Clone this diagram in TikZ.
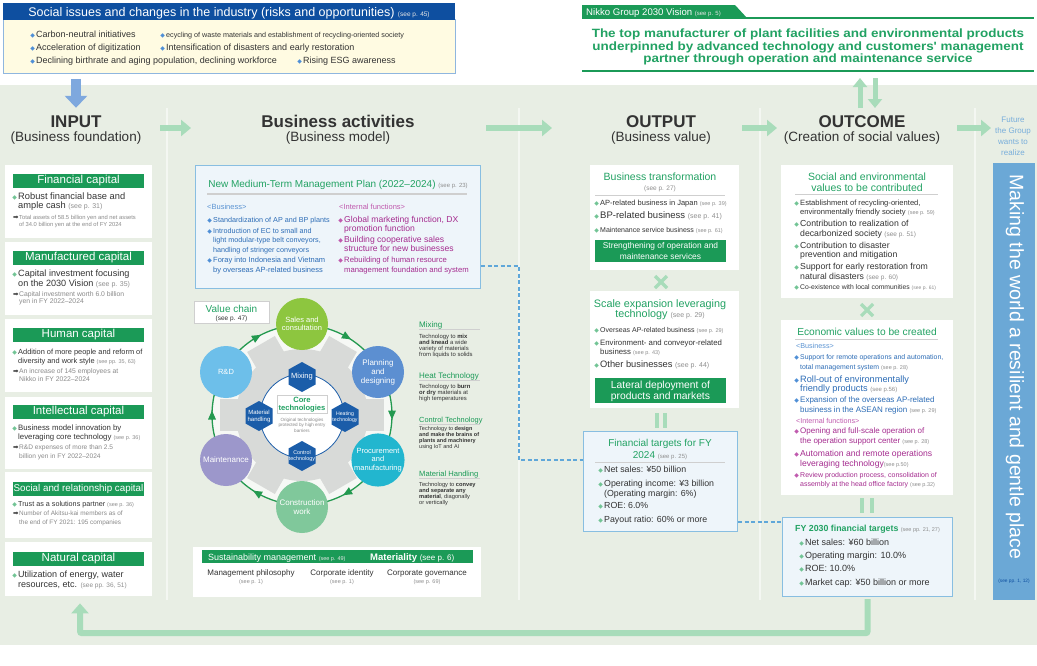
\documentclass[tikz,border=0pt]{standalone}
\usepackage{fontspec}
\setmainfont{Liberation Sans}
\newfontfamily\symf{DejaVu Sans}
\newfontfamily\visf[FakeStretch=1.12]{Liberation Sans}
\usetikzlibrary{shapes.geometric,arrows.meta,calc}

\definecolor{sage}{HTML}{E8EEE4}
\definecolor{sepc}{HTML}{F4F7F2}
\definecolor{gHead}{HTML}{1B9A57}
\definecolor{gTitle}{HTML}{22A263}
\definecolor{gBul}{HTML}{72C495}
\definecolor{gArrow}{HTML}{A8DCBA}
\definecolor{gRing}{HTML}{23994F}
\definecolor{navy}{HTML}{0E4FA0}
\definecolor{bulB}{HTML}{4F8FD6}
\definecolor{ibl}{HTML}{2C6CB6}
\definecolor{ibl2}{HTML}{5A93D2}
\definecolor{mag}{HTML}{A52C8F}
\definecolor{mag2}{HTML}{C05AAE}
\definecolor{tx}{HTML}{333333}
\definecolor{gray1}{HTML}{8A8A8A}
\definecolor{seeg}{HTML}{8F8F8F}
\definecolor{yel}{HTML}{FFFBE2}
\definecolor{ybrd}{HTML}{8FB6DF}
\definecolor{fbox}{HTML}{EEF5FA}
\definecolor{fbrd}{HTML}{88BEE1}
\definecolor{dashc}{HTML}{5FA7D9}
\definecolor{barb}{HTML}{6BA8D6}
\definecolor{futc}{HTML}{78AEDB}
\definecolor{rulec}{HTML}{CFCFCF}
\definecolor{arrB}{HTML}{7EA8DE}
\definecolor{gearc}{HTML}{D8DAD8}
\definecolor{ringin}{HTML}{F6F8F5}
\definecolor{hexb}{HTML}{1B5DA9}
\definecolor{cSales}{HTML}{8DC63F}
\definecolor{cPlan}{HTML}{5C8FD1}
\definecolor{cProc}{HTML}{22B6CF}
\definecolor{cCons}{HTML}{80C89B}
\definecolor{cMaint}{HTML}{9C97CB}
\definecolor{cRD}{HTML}{6DBFEA}

\newcommand\fz[2]{\fontsize{#1}{#2}\selectfont}
% bullet and arrow marks hung to the left of a line
\newcommand\bu[1][gBul]{\llap{{\symf\color{#1}\fontsize{6}{6}\selectfont ◆}\hspace{1.2pt}}}
\newcommand\rar{\llap{{\symf\color{tx}\fontsize{6.5}{6.5}\selectfont ➡}\hspace{0.6pt}}}
% page references
\newcommand\seep[2]{{\fontsize{#1}{#1}\selectfont\color{seeg}#2}}
\newcommand\seew[2]{{\fontsize{#1}{#1}\selectfont\color{white!80!gray}#2}}
% one line of text at a baseline
\newcount\lnc
\newcommand\tx[4][]{\global\advance\lnc by 1\relax\node[txt,#1] (ln\the\lnc) at (#2,#3) {#4};}

\begin{document}
\begin{tikzpicture}[x=1pt,y=-1pt,
  txt/.style={anchor=base west, inner sep=0, text=tx},
  wbox/.style={anchor=north west, fill=white, inner sep=0},
  capbar/.style={fill=gHead, text=white, inner sep=0, minimum width=131, minimum height=14, font=\fz{11.5}{11.5}},
  gbox/.style={anchor=north west, fill=gHead, inner sep=0, minimum width=131},
  bluebox/.style={anchor=north west, draw=fbrd, fill=fbox, line width=1.2, inner sep=0},
  vcirc/.style={circle, inner sep=0, minimum size=52, text=white, align=center, font=\fz{7.5}{8.5}},
  hexlab/.style={inner sep=0, text=white, align=center},
  fat/.style={draw=gArrow, line width=6, -{Triangle[length=10,width=16]}},
  twin/.style={draw=gArrow, line width=3.2},
  dashl/.style={draw=dashc, line width=1.1, dash pattern=on 4pt off 2.5pt},
]
\useasboundingbox (0,0) rectangle (1037,665);
\fill[white] (0,0) rectangle (1037,665);
\fill[sage] (0,85) rectangle (1037,645);
\foreach \x in {167,519,760,975} \draw[sepc, line width=1.5] (\x,108) -- (\x,600);

% ---------- social issues ----------
\node[anchor=north west, draw=ybrd, fill=yel, line width=0.8, minimum width=452, minimum height=54, inner sep=0] (soc) at (3,19) {};
\node[anchor=north west, fill=navy, minimum width=452, minimum height=17, inner sep=0] (sochd) at (3,3) {};
\tx[anchor=base, text=white]{229}{16.5}{\fz{12.5}{12.5}Social issues and changes in the industry (risks and opportunities) \seew{6.5}{(see p. 45)}}
\tx{36}{37}{\fz{9}{9}\bu[bulB]Carbon-neutral initiatives}
\tx{166}{37}{\fz{7.2}{7.2}\bu[bulB]ecycling of waste materials and establishment of recycling-oriented society}
\tx{36}{50}{\fz{9}{9}\bu[bulB]Acceleration of digitization}
\tx{166}{50}{\fz{9}{9}\bu[bulB]Intensification of disasters and early restoration}
\tx{36}{63}{\fz{9}{9}\bu[bulB]Declining birthrate and aging population, declining workforce}
\tx{303}{63}{\fz{9}{9}\bu[bulB]Rising ESG awareness}
\draw[arrB, line width=10, -{Triangle[length=12,width=22]}] ($(soc.south west)+(73,5)$) -- ($(soc.south west)+(73,34)$);

% ---------- vision ----------
\fill[gHead] (582,5) -- (735,5) -- (747,18) -- (582,18) -- cycle;
\draw[gHead, line width=1.5] (582,18) -- (1034,18);
\draw[gHead, line width=1.5] (582,71) -- (1034,71);
\tx[text=white]{586}{15}{\fz{9.6}{9.6}Nikko Group 2030 Vision \seew{6}{(see p. 5)}}
\tx[anchor=base, text=gTitle]{808}{37.5}{\visf\fz{12}{12}\bfseries The top manufacturer of plant facilities and environmental products}
\tx[anchor=base, text=gTitle]{808}{50}{\visf\fz{12}{12}\bfseries underpinned by advanced technology and customers' management}
\tx[anchor=base, text=gTitle]{808}{62.5}{\visf\fz{12}{12}\bfseries partner through operation and maintenance service}
\draw[gArrow, line width=5, -{Triangle[length=9,width=14]}] (860,108) -- (860,78);
\draw[gArrow, line width=5, -{Triangle[length=9,width=14]}] (875,78) -- (875,108);

% ---------- column heads ----------
\tx[anchor=base]{76}{127}{\fz{17}{17}\bfseries INPUT}
\tx[anchor=base]{76}{141}{\fz{13.5}{13.5}(Business foundation)}
\tx[anchor=base]{338}{127}{\fz{17}{17}\bfseries Business activities}
\tx[anchor=base]{338}{141}{\fz{13.5}{13.5}(Business model)}
\tx[anchor=base]{661}{127}{\fz{17}{17}\bfseries OUTPUT}
\tx[anchor=base]{661}{141}{\fz{13.5}{13.5}(Business value)}
\tx[anchor=base]{862}{127}{\fz{17}{17}\bfseries OUTCOME}
\tx[anchor=base]{862}{141}{\fz{13.5}{13.5}(Creation of social values)}
\tx[anchor=base, text=futc]{1013}{122}{\fz{8}{8}Future}
\tx[anchor=base, text=futc]{1013}{133}{\fz{8}{8}the Group}
\tx[anchor=base, text=futc]{1013}{144}{\fz{8}{8}wants to}
\tx[anchor=base, text=futc]{1013}{155}{\fz{8}{8}realize}
\coordinate (a1) at (160,128); \coordinate (a2) at (191,128);
\coordinate (a3) at (486,128); \coordinate (a4) at (552,128);
\coordinate (a5) at (742,128); \coordinate (a6) at (777,128);
\coordinate (a7) at (957,128); \coordinate (a8) at (991,128);
\draw[fat] (a1) -- (a2);
\draw[fat] (a3) -- (a4);
\draw[fat] (a5) -- (a6);
\draw[fat] (a7) -- (a8);

% ---------- INPUT ----------
\node[wbox, minimum width=147, minimum height=73] (cap1) at (5,165) {};
\node[wbox, minimum width=147, minimum height=73] (cap2) at (5,242) {};
\node[wbox, minimum width=147, minimum height=73] (cap3) at (5,319) {};
\node[wbox, minimum width=147, minimum height=72] (cap4) at (5,397) {};
\node[wbox, minimum width=147, minimum height=66] (cap5) at (5,472) {};
\node[wbox, minimum width=147, minimum height=54] (cap6) at (5,542) {};
\node[capbar] (h1) at (78.5,181) {Financial capital};
\node[capbar] (h2) at (78.5,257.5) {Manufactured capital};
\node[capbar] (h3) at (78.5,335) {Human capital};
\node[capbar] (h4) at (78.5,412) {Intellectual capital};
\node[capbar, font=\fz{9.8}{9.8}] (h5) at (78.5,489) {Social and relationship capital};
\node[capbar] (h6) at (78.5,559) {Natural capital};

\tx{18}{199}{\fz{9.3}{9.3}\bu Robust financial base and}
\tx{18}{208.5}{\fz{9.3}{9.3}ample cash \seep{7}{(see p. 31)}}
\tx[text=gray1]{19}{219}{\fz{5.8}{5.8}\rar Total assets of 58.5 billion yen and net assets}
\tx[text=gray1]{19}{226}{\fz{5.8}{5.8}of 34.0 billion yen at the end of FY 2024}

\tx{18}{276}{\fz{9.1}{9.1}\bu Capital investment focusing}
\tx{18}{286}{\fz{9.1}{9.1}on the 2030 Vision \seep{7}{(see p. 35)}}
\tx[text=gray1]{19}{296}{\fz{6.8}{6.8}\rar Capital investment worth 6.0 billion}
\tx[text=gray1]{19}{303.5}{\fz{6.8}{6.8}yen in FY 2022–2024}

\tx{18}{354}{\fz{7.4}{7.4}\bu Addition of more people and reform of}
\tx{18}{363}{\fz{7.4}{7.4}diversity and work style \seep{5.5}{(see pp. 35, 63)}}
\tx[text=gray1]{19}{373}{\fz{6.8}{6.8}\rar An increase of 145 employees at}
\tx[text=gray1]{19}{381}{\fz{6.8}{6.8}Nikko in FY 2022–2024}

\tx{18}{430}{\fz{7.8}{7.8}\bu Business model innovation by}
\tx{18}{439}{\fz{7.8}{7.8}leveraging core technology \seep{5.5}{(see p. 36)}}
\tx[text=gray1]{19}{449}{\fz{6.6}{6.6}\rar R\&D expenses of more than 2.5}
\tx[text=gray1]{19}{458}{\fz{6.6}{6.6}billion yen in FY 2022–2024}

\tx{18}{506}{\fz{7.2}{7.2}\bu Trust as a solutions partner \seep{5.5}{(see p. 36)}}
\tx[text=gray1]{19}{515}{\fz{6.4}{6.4}\rar Number of Akitsu-kai members as of}
\tx[text=gray1]{19}{524}{\fz{6.4}{6.4}the end of FY 2021: 195 companies}

\tx{18}{577}{\fz{9}{9}\bu Utilization of energy, water}
\tx{18}{587}{\fz{9}{9}resources, etc. \seep{6.5}{(see pp. 36, 51)}}

% ---------- medium-term plan ----------
\node[bluebox, line width=1, minimum width=285, minimum height=123] (mtp) at (195,165) {};
\tx[anchor=base, text=gTitle]{338}{187}{\fz{10}{10}New Medium-Term Management Plan (2022–2024) \seep{6}{(see p. 23)}}
\draw[rulec, line width=1.2] (207,194) -- (467,194);
\tx[text=ibl2]{207}{209}{\fz{7.5}{7.5}<Business>}
\tx[text=ibl]{213}{222}{\fz{7.2}{7.2}\bu[bulB]Standardization of AP and BP plants}
\tx[text=ibl]{213}{233}{\fz{7.2}{7.2}\bu[bulB]Introduction of EC to small and}
\tx[text=ibl]{213}{242}{\fz{7.2}{7.2}light modular-type belt conveyors,}
\tx[text=ibl]{213}{252}{\fz{7.2}{7.2}handling of stringer conveyors}
\tx[text=ibl]{213}{262}{\fz{7.5}{7.5}\bu[bulB]Foray into Indonesia and Vietnam}
\tx[text=ibl]{213}{272}{\fz{7.5}{7.5}by overseas AP-related business}
\tx[text=mag2]{339}{209}{\fz{7.5}{7.5}<Internal functions>}
\tx[text=mag]{344}{222}{\fz{8.6}{8.6}\bu[mag2]Global marketing function, DX}
\tx[text=mag]{344}{231}{\fz{8.6}{8.6}promotion function}
\tx[text=mag]{344}{242}{\fz{8.6}{8.6}\bu[mag2]Building cooperative sales}
\tx[text=mag]{344}{251}{\fz{8.6}{8.6}structure for new businesses}
\tx[text=mag]{344}{262}{\fz{7.7}{7.7}\bu[mag2]Rebuilding of human resource}
\tx[text=mag]{344}{272}{\fz{7.7}{7.7}management foundation and system}

% ---------- value chain ----------
\coordinate (vc) at (302,415);
\fill[ringin] (vc) circle[radius=90];
\fill[gearc] (vc) circle[radius=66];
\foreach \a in {0,60,...,300}
  \fill[gearc, rotate around={\a:(vc)}] ($(vc)+(0,-16)$) rectangle ($(vc)+(82,16)$);
\draw[gRing, line width=1.3] (vc) circle[radius=90];
\foreach \t in {60,0,-60,-120,180,120}
  \fill[gRing] ($(vc)+({90*cos(\t)+4.5*sin(\t)},{-90*sin(\t)+4.5*cos(\t)})$)
    -- ($(vc)+({94*cos(\t)-4.5*sin(\t)},{-94*sin(\t)-4.5*cos(\t)})$)
    -- ($(vc)+({86*cos(\t)-4.5*sin(\t)},{-86*sin(\t)-4.5*cos(\t)})$) -- cycle;
\node[vcirc, fill=cSales] (sales) at (302,324) {Sales and\\consultation};
\node[vcirc, fill=cPlan, font=\fz{8}{9}] (plan) at (378,372) {Planning\\and\\designing};
\node[vcirc, fill=cProc] (proc) at (378,460) {Procurement\\and\\manufacturing};
\node[vcirc, fill=cCons, font=\fz{8}{9}] (cons) at (302,507) {Construction\\work};
\node[vcirc, fill=cMaint, font=\fz{8}{9}] (maint) at (226,460) {Maintenance};
\node[vcirc, fill=cRD] (rd) at (226,372) {R\&D};
\node[circle, draw=hexb, fill=white, line width=0.8, minimum size=84, inner sep=0] (core) at (302,416) {};
\foreach \cx/\cy in {302/377, 345/417, 302/456, 259/416}
  \fill[hexb] (\cx,\cy-15) -- (\cx+13.5,\cy-7.5) -- (\cx+13.5,\cy+7.5) -- (\cx,\cy+15)
     -- (\cx-13.5,\cy+7.5) -- (\cx-13.5,\cy-7.5) -- cycle;
\node[hexlab, font=\fz{7.5}{8}] (hmix) at (302,377) {Mixing};
\node[hexlab, font=\fz{5.2}{6}] (hheat) at (345,417) {Heating\\technology};
\node[hexlab, font=\fz{5.4}{6.4}] (hctl) at (302,456) {Control\\technology};
\node[hexlab, font=\fz{6}{7}] (hmat) at (259,416) {Material\\handling};
\node[draw=rulec, fill=white, inner sep=1.5, text=gTitle, align=center, font=\fz{7.6}{8}\bfseries] (ctb) at (302,404.5) {Core\\technologies};
\node[inner sep=0, text=gray1, align=center, font=\fz{4.6}{5.4}] (ctx) at (302,425) {Original technologies\\protected by high entry\\barriers};

\node[anchor=north west, draw=rulec, fill=white, minimum width=75, minimum height=22, inner sep=0] (vcl) at (194,301) {};
\tx[anchor=base, text=gTitle]{231.5}{312}{\fz{10}{10}Value chain}
\tx[anchor=base]{231.5}{320.5}{\fz{6.5}{6.5}(see p. 47)}

% technology notes
\tx[text=gHead]{419}{327}{\fz{8}{8}Mixing}
\draw[rulec] (419,329.5) -- (480,329.5);
\tx{419}{338}{\fz{5.9}{6}Technology to \textbf{mix}}
\tx{419}{344.3}{\fz{5.9}{6}\textbf{and knead} a wide}
\tx{419}{350.6}{\fz{5.9}{6}variety of materials}
\tx{419}{356.9}{\fz{5.9}{6}from liquids to solids}
\tx[text=gHead]{419}{378}{\fz{8}{8}Heat Technology}
\draw[rulec] (419,380.5) -- (480,380.5);
\tx{419}{388}{\fz{5.9}{6}Technology to \textbf{burn}}
\tx{419}{394.3}{\fz{5.9}{6}\textbf{or dry} materials at}
\tx{419}{400.6}{\fz{5.9}{6}high temperatures}
\tx[text=gHead]{419}{422}{\fz{7.4}{7.4}Control Technology}
\draw[rulec] (419,424.5) -- (480,424.5);
\tx{419}{430}{\fz{5.5}{6}Technology to \textbf{design}}
\tx{419}{436.2}{\fz{5.5}{6}\textbf{and make the brains of}}
\tx{419}{442.4}{\fz{5.5}{6}\textbf{plants and machinery}}
\tx{419}{448.6}{\fz{5.5}{6}using IoT and AI}
\tx[text=gHead]{419}{476}{\fz{7.6}{7.6}Material Handling}
\draw[rulec] (419,478.5) -- (480,478.5);
\tx{419}{486}{\fz{5.7}{6}Technology to \textbf{convey}}
\tx{419}{492.2}{\fz{5.7}{6}\textbf{and separate any}}
\tx{419}{498.4}{\fz{5.7}{6}\textbf{material}, diagonally}
\tx{419}{504.6}{\fz{5.7}{6}or vertically}

% ---------- sustainability ----------
\node[wbox, minimum width=288, minimum height=50] (sus) at (193,547) {};
\node[gbox, minimum width=271, minimum height=13] (susbar) at (202,550) {};
\tx[text=white]{208}{560.5}{\fz{9}{9}Sustainability management \seew{5.5}{(see p. 49)}}
\tx[text=white]{370}{560.5}{\fz{9.5}{9.5}\bfseries Materiality \mdseries\fz{8}{8}(see p. 6)}
\tx[anchor=base]{251}{575}{\fz{8}{8}Management philosophy}
\tx[anchor=base]{251}{583.5}{\seep{5.5}{(see p. 1)}}
\tx[anchor=base]{342}{575}{\fz{8}{8}Corporate identity}
\tx[anchor=base]{342}{583.5}{\seep{5.5}{(see p. 1)}}
\tx[anchor=base]{427}{575}{\fz{8}{8}Corporate governance}
\tx[anchor=base]{427}{583.5}{\seep{5.5}{(see p. 69)}}

% ---------- OUTPUT ----------
\node[wbox, minimum width=149, minimum height=105] (bt) at (590,165) {};
\tx[anchor=base, text=gTitle]{660}{180}{\fz{10.5}{10.5}Business transformation}
\tx[anchor=base]{660}{190}{\seep{6.5}{(see p. 27)}}
\draw[rulec, line width=1] (595,195) -- (725,195);
\tx{600}{205}{\fz{7.5}{7.5}\bu AP-related business in Japan \seep{5.5}{(see p. 39)}}
\tx{600}{218}{\fz{9.5}{9.5}\bu BP-related business \seep{7}{(see p. 41)}}
\tx{600}{232}{\fz{7}{7}\bu Maintenance service business \seep{5.5}{(see p. 61)}}
\node[gbox, minimum height=22] (bt2) at (595,240) {};
\tx[anchor=base, text=white]{660.5}{248.5}{\fz{8.4}{8.4}Strengthening of operation and}
\tx[anchor=base, text=white]{660.5}{259}{\fz{8.4}{8.4}maintenance services}
\draw[gArrow, line width=3.2] (655,276) -- (667,288) (655,288) -- (667,276);

\node[wbox, minimum width=149, minimum height=117] (se) at (590,291) {};
\tx[anchor=base, text=gTitle]{660}{307}{\fz{10.8}{10.8}Scale expansion leveraging}
\tx[anchor=base, text=gTitle]{660}{317.5}{\fz{10.8}{10.8}technology \seep{7}{(see p. 29)}}
\tx{600}{332}{\fz{7}{7}\bu Overseas AP-related business \seep{5.5}{(see p. 29)}}
\tx{600}{345}{\fz{7.8}{7.8}\bu Environment- and conveyor-related}
\tx{600}{354}{\fz{7.8}{7.8}business \seep{5.5}{(see p. 43)}}
\tx{600}{367}{\fz{9.3}{9.3}\bu Other businesses \seep{7}{(see p. 44)}}
\node[gbox, minimum height=25] (se2) at (595,378) {};
\tx[anchor=base, text=white]{660.5}{388}{\fz{10.3}{10.3}Lateral deployment of}
\tx[anchor=base, text=white]{660.5}{399}{\fz{10.3}{10.3}products and markets}
\draw[twin] (657,413) -- (657,428) (665,413) -- (665,428);

\node[bluebox, minimum width=154, minimum height=100] (fin24) at (583,431) {};
\tx[anchor=base, text=gTitle]{660}{446}{\fz{10}{10}Financial targets for FY}
\tx[anchor=base, text=gTitle]{660}{458}{\fz{10}{10}2024 \seep{6}{(see p. 25)}}
\draw[rulec, line width=1] (595,462) -- (725,462);
\tx{604}{472}{\fz{8.8}{8.8}\bu Net sales: ¥50 billion}
\tx{604}{486}{\fz{8.8}{8.8}\bu Operating income: ¥3 billion}
\tx{604}{496}{\fz{8.8}{8.8}(Operating margin: 6\%)}
\tx{604}{508}{\fz{8.8}{8.8}\bu ROE: 6.0\%}
\tx{604}{522}{\fz{8.8}{8.8}\bu Payout ratio: 60\% or more}

% ---------- OUTCOME ----------
\node[wbox, minimum width=172, minimum height=133] (sev) at (781,165) {};
\tx[anchor=base, text=gTitle]{867}{180}{\fz{10.5}{10.5}Social and environmental}
\tx[anchor=base, text=gTitle]{867}{191}{\fz{10.5}{10.5}values to be contributed}
\draw[rulec, line width=1] (795,194.5) -- (938,194.5);
\tx{800}{205}{\fz{7.6}{7.6}\bu Establishment of recycling-oriented,}
\tx{800}{214}{\fz{7.6}{7.6}environmentally friendly society \seep{5.5}{(see p. 59)}}
\tx{800}{226}{\fz{8.7}{8.7}\bu Contribution to realization of}
\tx{800}{236}{\fz{8.7}{8.7}decarbonized society \seep{6.5}{(see p. 51)}}
\tx{800}{248}{\fz{8.7}{8.7}\bu Contribution to disaster}
\tx{800}{257.5}{\fz{8.7}{8.7}prevention and mitigation}
\tx{800}{269}{\fz{8.7}{8.7}\bu Support for early restoration from}
\tx{800}{279}{\fz{8.7}{8.7}natural disasters \seep{6.5}{(see p. 60)}}
\tx{800}{289.5}{\fz{6.8}{6.8}\bu Co-existence with local communities \seep{5}{(see p. 61)}}
\draw[gArrow, line width=3.2] (861,304) -- (873,316) (861,316) -- (873,304);

\node[wbox, minimum width=172, minimum height=175] (ecv) at (781,320) {};
\tx[anchor=base, text=gTitle]{867}{335}{\fz{10.2}{10.2}Economic values to be created}
\draw[rulec, line width=1] (795,339) -- (938,339);
\tx[text=ibl2]{796}{348}{\fz{7.2}{7.2}<Business>}
\tx[text=ibl]{800}{359}{\fz{6.9}{6.9}\bu[bulB]Support for remote operations and automation,}
\tx[text=ibl]{800}{369}{\fz{6.9}{6.9}total management system \seep{5.5}{(see p. 28)}}
\tx[text=ibl]{800}{382}{\fz{9.2}{9.2}\bu[bulB]Roll-out of environmentally}
\tx[text=ibl]{800}{391}{\fz{9.2}{9.2}friendly products \seep{6}{(see p.56)}}
\tx[text=ibl]{800}{402}{\fz{8}{8}\bu[bulB]Expansion of the overseas AP-related}
\tx[text=ibl]{800}{412}{\fz{8}{8}business in the ASEAN region \seep{5.5}{(see p. 29)}}
\tx[text=mag2]{796}{423}{\fz{7.2}{7.2}<Internal functions>}
\tx[text=mag]{800}{433}{\fz{8}{8}\bu[mag2]Opening and full-scale operation of}
\tx[text=mag]{800}{443}{\fz{8}{8}the operation support center \seep{5.5}{(see p. 28)}}
\tx[text=mag]{800}{456}{\fz{8.6}{8.6}\bu[mag2]Automation and remote operations}
\tx[text=mag]{800}{466}{\fz{8.6}{8.6}leveraging technology\seep{5.5}{(see p.50)}}
\tx[text=mag]{800}{477}{\fz{7}{7}\bu[mag2]Review production process, consolidation of}
\tx[text=mag]{800}{486}{\fz{7}{7}assembly at the head office factory \seep{5.5}{(see p.32)}}
\draw[twin] (862,498) -- (862,513) (872,498) -- (872,513);

\node[bluebox, minimum width=170, minimum height=79] (fy30) at (782,517) {};
\tx[text=gTitle]{795}{531}{\fz{8.8}{8.8}\bfseries FY 2030 financial targets \mdseries\seep{5.5}{(see pp. 21, 27)}}
\tx{805}{545}{\fz{9}{9}\bu Net sales: ¥60 billion}
\tx{805}{558}{\fz{9}{9}\bu Operating margin: 10.0\%}
\tx{805}{571}{\fz{9}{9}\bu ROE: 10.0\%}
\tx{805}{585}{\fz{9}{9}\bu Market cap: ¥50 billion or more}

% ---------- future bar ----------
\node[anchor=north west, fill=barb, minimum width=42, minimum height=437, inner sep=0] (bar) at (993,163) {};
\node[rotate=-90, text=white, inner sep=0, font=\fz{19.5}{19.5}] (mk) at (1015,367) {Making the world a resilient and gentle place};
\node[inner sep=0, text=navy, font=\fz{4.8}{5}] (mkref) at (1014,581) {(see pp. 1, 12)};

% ---------- dashed links ----------
\draw[dashl] ($(mtp.north east)+(0,101)$) -- (519,266) |- ($(fin24.north west)+(0,29)$);
\draw[dashl] ($(fin24.north east)+(0,91)$) -- ($(fy30.north west)+(0,5)$);

% ---------- feedback loop ----------
\draw[gArrow, line width=6, rounded corners=2, -{Triangle[length=10,width=17]}]
  ($(fy30.south)+(0,2)$) -- ($(fy30.south)+(0,36)$) -| ($(cap6.south west)+(75,7)$);
\end{tikzpicture}
\end{document}
